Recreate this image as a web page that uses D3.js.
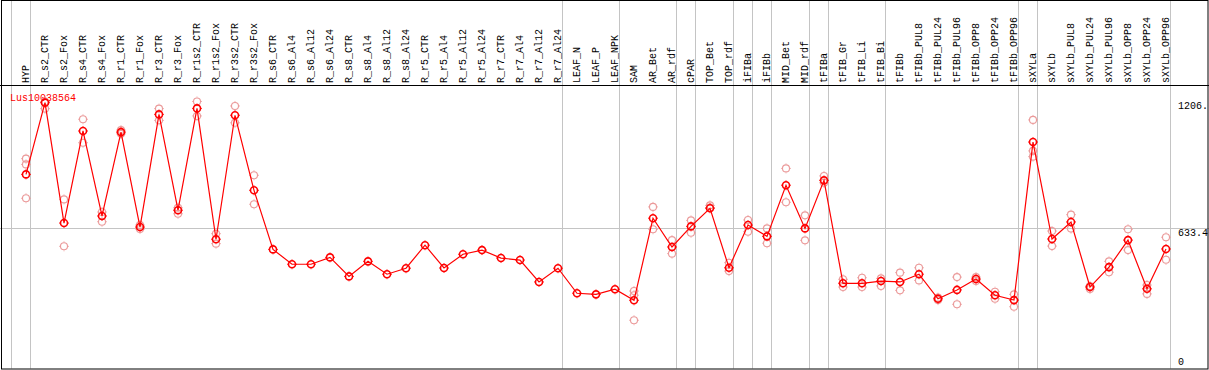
<!DOCTYPE html>
<html>
<head>
<meta charset="utf-8">
<script src="https://cdn.jsdelivr.net/npm/d3@7"></script>
<style>
  body { margin: 0; background: #fff; }
  svg { display: block; font-family: "Liberation Mono", "DejaVu Sans Mono", monospace; }
</style>
</head>
<body>
<div id="chart"></div>
<script>
// ============================================================
// Data
// ============================================================
const geneName = 'Lus10038564';

const samples = [
    'HYP', 'R_s2_CTR', 'R_s2_Fox', 'R_s4_CTR', 'R_s4_Fox', 'R_r1_CTR', 'R_r1_Fox',
    'R_r3_CTR', 'R_r3_Fox', 'R_r1s2_CTR', 'R_r1s2_Fox', 'R_r3s2_CTR', 'R_r3s2_Fox',
    'R_s6_CTR', 'R_s6_Al4', 'R_s6_Al12', 'R_s6_Al24', 'R_s8_CTR', 'R_s8_Al4', 'R_s8_Al12',
    'R_s8_Al24', 'R_r5_CTR', 'R_r5_Al4', 'R_r5_Al12', 'R_r5_Al24', 'R_r7_CTR', 'R_r7_Al4',
    'R_r7_Al12', 'R_r7_Al24', 'LEAF_N', 'LEAF_P', 'LEAF_NPK', 'SAM', 'AR_Bet', 'AR_rdf',
    'cPAR', 'TOP_Bet', 'TOP_rdf', 'iFIBa', 'iFIBb', 'MID_Bet', 'MID_rdf', 'tFIBa',
    'tFIB_Gr', 'tFIB_Li', 'tFIB_Bi', 'tFIBb', 'tFIBb_PUL8', 'tFIBb_PUL24', 'tFIBb_PUL96',
    'tFIBb_OPP8', 'tFIBb_OPP24', 'tFIBb_OPP96', 'sXYLa', 'sXYLb', 'sXYLb_PUL8',
    'sXYLb_PUL24', 'sXYLb_PUL96', 'sXYLb_OPP8', 'sXYLb_OPP24', 'sXYLb_OPP96'
];

// mean expression per sample
const meanValues = [
    877, 1201, 657, 1073, 689, 1068, 639, 1148, 715, 1175, 584, 1144, 805,
    538, 471, 471, 502, 416, 484, 426, 453, 557, 454, 516, 535, 499, 490, 391, 453,
    340, 335, 358, 308, 679, 549, 642, 724, 455, 648, 597, 828, 633, 850,
    385, 385, 395, 391, 426, 315, 355, 404, 331, 309, 1023, 585, 662,
    368, 458, 580, 360, 540
];

// replicate values (light circles)
const replicateValues = [
    [948, 922, 769], [1206, 1174], [764, 552], [1126, 1020], [707, 663], [1077, 1060], [648, 630],
    [1174, 1121], [726, 699], [1206.5, 1141], [609, 564], [1186, 1110], [873, 742],
    [], [], [], [], [], [], [], [], [], [], [], [], [], [], [], [],
    [], [], [], [350, 331, 218], [730, 629], [580, 519], [669, 613], [737, 727], [478, 440],
    [671, 618], [633, 566], [904, 751], [692, 579], [870, 839],
    [403, 368], [410, 368], [407, 373], [433, 353], [455, 398], [320, 309], [413, 290],
    [413, 395], [347, 315], [335, 279], [1123, 983, 957], [621, 553], [695, 632],
    [373, 359], [484, 435], [629, 535], [377, 337], [593, 491]
];

// first sample of each group (vertical separators)
const groupStarts = ['HYP', 'R_s2_CTR', 'LEAF_N', 'SAM', 'cPAR', 'TOP_Bet', 'iFIBa', 'iFIBb',
    'MID_Bet', 'tFIBa', 'tFIB_Gr', 'tFIBb', 'sXYLa', 'sXYLb'];

const yTicks = [0, 633.4, 1206.5];

// ============================================================
// Layout
// ============================================================
const width = 1209;
const height = 370;
const headerBottom = 85.5;
const plotBottom = 368.5;
const plotLeft = 11;
const plotRight = 1170;

const svg = d3.select('#chart')
    .append('svg')
    .attr('width', width)
    .attr('height', height);

const x = d3.scaleBand()
    .domain(samples)
    .range([plotLeft, plotRight])
    .paddingInner(0)
    .paddingOuter(0);

const px = d => x(d) + 15;

const y = d3.scaleLinear()
    .domain([0, 1274])
    .range([plotBottom, headerBottom + 1]);

// group separators
svg.append('g')
    .selectAll('line')
    .data(groupStarts.map(s => x(s)).concat([plotRight]))
    .join('line')
    .attr('x1', d => d + 0.5).attr('x2', d => d + 0.5)
    .attr('y1', 0).attr('y2', plotBottom)
    .attr('stroke', '#c4c4c4')
    .attr('stroke-width', 1);

// grid line at middle tick
svg.append('line')
    .attr('x1', 0).attr('x2', width)
    .attr('y1', Math.round(y(yTicks[1])) + 0.5)
    .attr('y2', Math.round(y(yTicks[1])) + 0.5)
    .attr('stroke', '#c4c4c4');

// header / frame lines
svg.append('line')
    .attr('x1', 0).attr('x2', width)
    .attr('y1', headerBottom).attr('y2', headerBottom)
    .attr('stroke', '#000');
svg.append('rect')
    .attr('x', 1.5).attr('y', 0.5)
    .attr('width', width - 2.5).attr('height', plotBottom)
    .attr('fill', 'none')
    .attr('stroke', '#000');

// column labels
svg.append('g')
    .selectAll('text')
    .data(samples)
    .join('text')
    .attr('transform', d => `translate(${px(d) + 3},83) rotate(-90)`)
    .attr('font-size', 10)
    .attr('fill', '#000')
    .text(d => d);

// y tick labels (right side), cut to 5 characters like the original
svg.append('g')
    .selectAll('text')
    .data(yTicks)
    .join('text')
    .attr('x', 1178)
    .attr('y', (d, i) => i === 0 ? y(d) - 4 : y(d) + 8)
    .attr('font-size', 10)
    .attr('fill', '#000')
    .text(d => String(d).slice(0, 5));

// gene name
svg.append('text')
    .attr('x', 10)
    .attr('y', 101)
    .attr('font-size', 10)
    .attr('fill', '#f00')
    .text(geneName);

// ============================================================
// Markers
// ============================================================
function drawMarker(g, cx, cy, color, sw) {
    const r = 3.5;
    g.append('circle')
        .attr('cx', cx).attr('cy', cy).attr('r', r)
        .attr('fill', 'none')
        .attr('stroke', color)
        .attr('stroke-width', sw);
    [[0, -1], [0, 1], [-1, 0], [1, 0]].forEach(([dx, dy]) => {
        g.append('line')
            .attr('x1', cx + dx * (r + 0.5)).attr('y1', cy + dy * (r + 0.5))
            .attr('x2', cx + dx * (r + 1.5)).attr('y2', cy + dy * (r + 1.5))
            .attr('stroke', color)
            .attr('stroke-width', 0.8);
    });
}

// replicates
const repG = svg.append('g');
samples.forEach((s, i) => {
    replicateValues[i].forEach(v => drawMarker(repG, px(s), y(v), '#eb9a9a', 1.1));
});

// mean line
const line = d3.line()
    .x((d, i) => px(samples[i]))
    .y(d => y(d));

svg.append('path')
    .datum(meanValues)
    .attr('d', line)
    .attr('fill', 'none')
    .attr('stroke', '#f00')
    .attr('stroke-width', 1.2);

const meanG = svg.append('g');
samples.forEach((s, i) => {
    drawMarker(meanG, px(s), y(meanValues[i]), '#f00', 1.6);
});
</script>
</body>
</html>
